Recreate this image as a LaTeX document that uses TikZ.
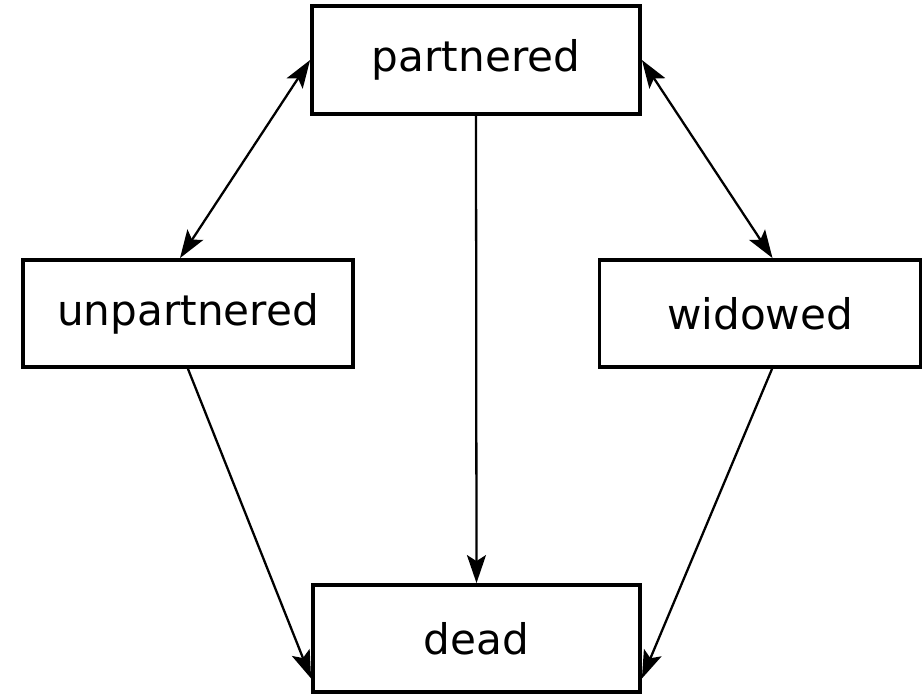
\documentclass[tikz,border=0pt]{standalone}
\usepackage{fontspec}
\setmainfont{DejaVu Sans}
\usetikzlibrary{arrows.meta,positioning}
\tikzset{
    %Define standard arrow tip
    >={Stealth[length=0.56cm,width=0.38cm,inset=0.12cm]},
    %Define style for boxes
    state/.style={
           draw,
           line width=2.2pt,
           rectangle,
           inner sep=0pt,
           font=\fontsize{24}{29}\selectfont,
           text centered},
    % Define arrow style
    pil/.style={
           line width=1.3pt}
}
\begin{document}
\begin{tikzpicture}[x=0.02cm,y=-0.02cm]
	\useasboundingbox (0,0) rectangle (922,694);

	% States
	\node[state, minimum width=6.56cm, minimum height=2.16cm] (part) at (476,60) {partnered};
	\node[state, minimum width=6.6cm, minimum height=2.14cm] (unpart) at (188,313.5) {unpartnered};
	\node[state, minimum width=6.42cm, minimum height=2.14cm] (wid) at (760,313.5) {widowed};
	\node[state, minimum width=6.54cm, minimum height=2.14cm] (dead) at (476.5,638.5) {dead};

	% Transitions
	\draw[pil, <->] ([xshift=-0.16cm]unpart.north) -- (part.west);
	\draw[pil, <->] (part.east) -- ([xshift=0.25cm]wid.north);
	\draw[pil, ->] (part.south) -- (dead.north);
	\draw[pil, ->] (unpart.south) -- ([yshift=-0.8cm]dead.west);
	\draw[pil, ->] ([xshift=0.24cm]wid.south) -- ([yshift=-0.8cm]dead.east);
\end{tikzpicture}
\end{document}
